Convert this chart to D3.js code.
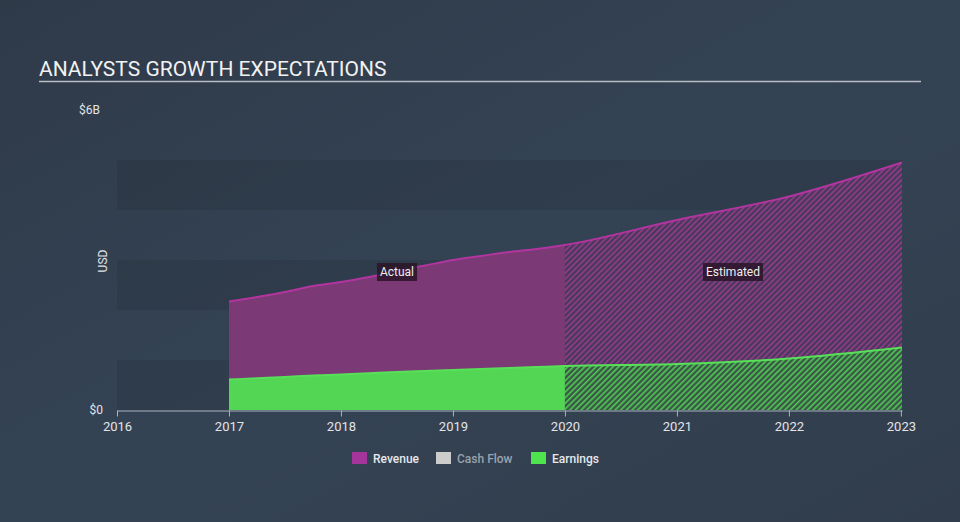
<!DOCTYPE html>
<html><head><meta charset="utf-8">
<script src="https://cdn.jsdelivr.net/npm/d3@7"></script>
<style>
html,body{margin:0;padding:0;background:#333f4f;}
svg{display:block;font-family:Roboto,"Open Sans",sans-serif;}
</style></head>
<body><svg id="c" width="960" height="522"></svg>
<script>
// ---- data ----
const revenueActualDates = [2017.0,2017.25,2017.5,2017.75,2018.0,2018.25,2018.5,2018.75,2019.0,2019.25,2019.5,2019.75,2020.0];
const revenueActualValues = [2.17,2.26,2.36,2.48,2.56,2.66,2.78,2.89,3.00,3.08,3.16,3.22,3.30];
const earningsActualValues = [0.61,0.635,0.66,0.69,0.71,0.735,0.76,0.78,0.80,0.82,0.84,0.86,0.88];
const estimateDates = [2020.0,2021.0,2022.0,2023.01];
const revenueEstimateValues = [3.30,3.80,4.27,4.95];
const earningsEstimateValues = [0.88,0.92,1.03,1.25];
const xTickYears = [2016,2017,2018,2019,2020,2021,2022,2023];
const yTickLabels = ["$0","$6B"];
const legendItems = ["Revenue","Cash Flow","Earnings"];

(function(){
const svg = d3.select("#c");
const W=960,H=522;
const pLeft=117,pRight=902,pTop=110,pBottom=410;
const x = d3.scaleLinear().domain([2016,2023.01]).range([pLeft,pRight]);
const y = d3.scaleLinear().domain([0,6]).range([pBottom,pTop]);

const defs = svg.append("defs");
const bg = defs.append("linearGradient").attr("id","bg").attr("x1",0).attr("y1",0).attr("x2",1).attr("y2",1);
bg.append("stop").attr("offset",0).attr("stop-color","#2f3a49");
bg.append("stop").attr("offset",0.5).attr("stop-color","#344354");
bg.append("stop").attr("offset",1).attr("stop-color","#313d4c");
svg.append("rect").attr("width",W).attr("height",H).attr("fill","url(#bg)");

function hatch(id, base, stroke){
  const p = defs.append("pattern").attr("id",id).attr("patternUnits","userSpaceOnUse")
    .attr("width",4).attr("height",4).attr("patternTransform","rotate(45)");
  p.append("rect").attr("width",4).attr("height",4).attr("fill",base);
  p.append("rect").attr("width",1.6).attr("height",4).attr("fill",stroke);
}
hatch("hRev","#453a5a","#9a3a8e");
hatch("hEarn","#3b5548","#4fcc52");

// title
svg.append("text").attr("x",39).attr("y",76).attr("fill","#f2f2f2").attr("font-size",21)
  .text("ANALYSTS GROWTH EXPECTATIONS");
svg.append("line").attr("x1",39).attr("x2",921).attr("y1",81.5).attr("y2",81.5)
  .attr("stroke","#b8bcc4").attr("stroke-width",1.5);

// bands
const bandVals = d3.range(0,6);
svg.append("g").selectAll("rect").data(bandVals.filter(v=>v%2===0)).join("rect")
  .attr("x",pLeft).attr("width",pRight-pLeft)
  .attr("y",d=>y(d+1)).attr("height",d=>y(d)-y(d+1))
  .attr("fill","#000").attr("fill-opacity",0.08);

// areas
const area = d3.area().x(d=>x(d[0])).y0(y(0)).y1(d=>y(d[1])).curve(d3.curveMonotoneX);
const line = d3.line().x(d=>x(d[0])).y(d=>y(d[1])).curve(d3.curveMonotoneX);
const revA = revenueActualDates.map((d,i)=>[d,revenueActualValues[i]]);
const earnA = revenueActualDates.map((d,i)=>[d,earningsActualValues[i]]);
const revE = estimateDates.map((d,i)=>[d,revenueEstimateValues[i]]);
const earnE = estimateDates.map((d,i)=>[d,earningsEstimateValues[i]]);

svg.append("path").attr("d",area(revA)).attr("fill","#7b3a76");
svg.append("path").attr("d",area(revE)).attr("fill","url(#hRev)");
svg.append("path").attr("d",area(earnA)).attr("fill","#52d654");
svg.append("path").attr("d",area(earnE)).attr("fill","url(#hEarn)");
svg.append("path").attr("d",line(revA.concat(revE.slice(1)))).attr("fill","none").attr("stroke","#b2359f").attr("stroke-width",2);
svg.append("path").attr("d",line(earnA.concat(earnE.slice(1)))).attr("fill","none").attr("stroke","#58e058").attr("stroke-width",2);

// axis
const ax = svg.append("g").attr("transform",`translate(0,${pBottom+0.5})`)
  .call(d3.axisBottom(x).tickValues(xTickYears).tickFormat(d3.format("d")).tickSize(6).tickSizeOuter(0));
ax.select(".domain").attr("stroke","#aab3bf");
ax.selectAll(".tick line").attr("stroke","#aab3bf");
ax.selectAll(".tick text").attr("fill","#e2e4e8").attr("font-size",13).attr("dy","0.85em").attr("font-family","Roboto");

// y labels
svg.append("text").attr("x",103).attr("y",y(0)+4).attr("text-anchor","end").attr("fill","#e2e4e8").attr("font-size",12).text(yTickLabels[0]);
svg.append("text").attr("x",79).attr("y",y(6)+4).attr("fill","#e2e4e8").attr("font-size",12).text(yTickLabels[1]);
svg.append("text").attr("transform",`translate(107,261) rotate(-90)`).attr("text-anchor","middle")
  .attr("fill","#e2e4e8").attr("font-size",12).text("USD");

// Actual / Estimated labels
function tag(cx,cy,t){
  const g=svg.append("g");
  const txt=g.append("text").attr("x",cx).attr("y",cy+4).attr("text-anchor","middle").attr("fill","#eee").attr("font-size",12).text(t);
  const bb=txt.node().getBBox();
  g.insert("rect","text").attr("x",bb.x-3).attr("y",cy-9).attr("width",bb.width+6).attr("height",18).attr("fill","#2a1528").attr("fill-opacity",0.85);
}
tag(397,272,"Actual");
tag(733,272,"Estimated");

// legend
const legColors=["#a5349b","#cccccc","#4ee44e"];
const legX=[352,436,531];
const lg=svg.append("g").selectAll("g").data(legendItems).join("g").attr("transform",(d,i)=>`translate(${legX[i]},452)`);
lg.append("rect").attr("width",15).attr("height",12).attr("fill",(d,i)=>legColors[i]);
lg.append("text").attr("x",21).attr("y",10.5).attr("font-size",12).attr("font-weight",500)
  .attr("fill",(d,i)=>i===1?"#9aa3ae":"#e6e8ec").text(d=>d);
})();
</script></body></html>
